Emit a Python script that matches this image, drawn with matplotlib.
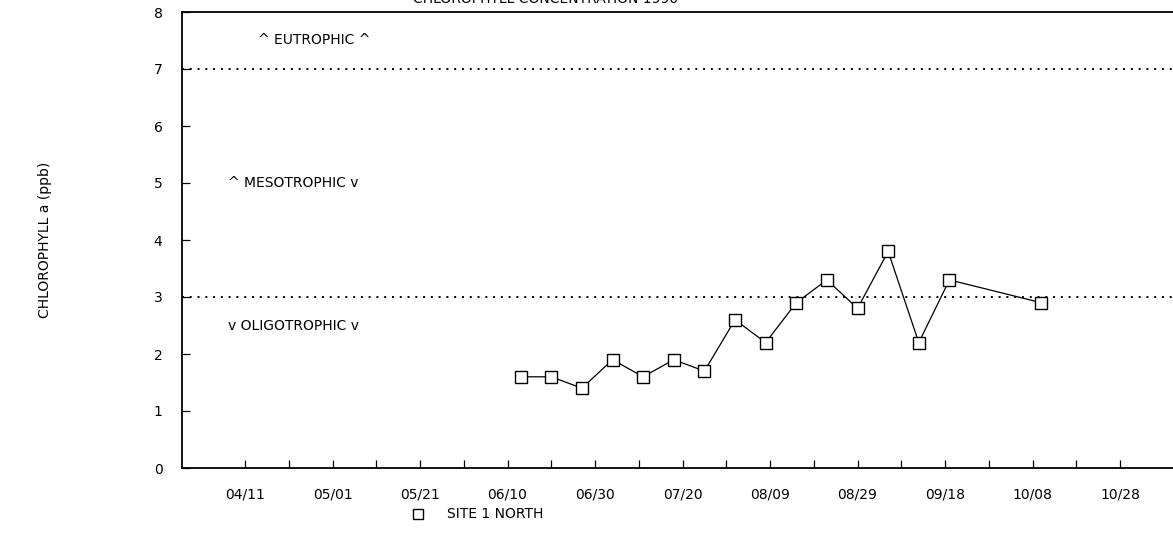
import matplotlib
matplotlib.use("Agg")
import matplotlib.pyplot as plt
import matplotlib.dates as mdates
import numpy as np
import datetime as dt

# ---- data ----
sample_dates = ["1990-06-13", "1990-06-20", "1990-06-27", "1990-07-04", "1990-07-11",
                "1990-07-18", "1990-07-25", "1990-08-01", "1990-08-08", "1990-08-15",
                "1990-08-22", "1990-08-29", "1990-09-05", "1990-09-12", "1990-09-19",
                "1990-10-10"]
chlorophyll = [1.6, 1.6, 1.4, 1.9, 1.6, 1.9, 1.7, 2.6, 2.2, 2.9, 3.3, 2.8, 3.8, 2.2, 3.3, 2.9]
thresholds = [7, 3]
zone_labels = ["^ EUTROPHIC ^", "^ MESOTROPHIC v", "v OLIGOTROPHIC v"]
zone_label_y = [7.5, 5.0, 2.5]
zone_label_x = ["1990-04-14", "1990-04-07", "1990-04-07"]
series_name = "SITE 1 NORTH"
title = "CHLOROPHYLL CONCENTRATION 1990"
ylabel = "CHLOROPHYLL a (ppb)"

plt.rcParams['font.family'] = ['DejaVu Sans']

W, H = 1173, 550
fig = plt.figure(figsize=(W / 100, H / 100), dpi=100)
ax = fig.add_axes([182 / W, 1 - 468 / H, 1 - 182 / W, (468 - 12) / H])

x = [dt.datetime.strptime(d, "%Y-%m-%d") for d in sample_dates]
ax.plot(x, chlorophyll, color="black", lw=0.9, marker="s", ms=8,
        mfc="white", mec="black", mew=1.0, zorder=3)

for t in thresholds:
    ax.axhline(t, color="black", lw=1.4, ls=(0, (1, 3)), zorder=2)

for lab, yy, xx in zip(zone_labels, zone_label_y, zone_label_x):
    ax.text(dt.datetime.strptime(xx, "%Y-%m-%d"), yy, lab, fontsize=10,
            ha="left", va="center", color="black")

ax.set_ylim(0, 8)
ax.set_yticks(range(0, 9))
x0 = dt.datetime(1990, 4, 11) - dt.timedelta(days=14.4)
x1 = dt.datetime(1990, 4, 11) + dt.timedelta(days=212.1)
ax.set_xlim(x0, x1)

major = [dt.datetime(1990, 4, 11) + dt.timedelta(days=20 * i) for i in range(11)]
minor = [dt.datetime(1990, 4, 11) + dt.timedelta(days=10 * i) for i in range(21)]
ax.set_xticks(major)
ax.set_xticks(minor, minor=True)
ax.xaxis.set_major_formatter(mdates.DateFormatter("%m/%d"))

ax.tick_params(axis="both", which="both", direction="in", length=6, width=0.9,
               labelsize=10, colors="black")
ax.tick_params(axis="x", pad=14)
ax.tick_params(axis="y", pad=14)

for s in ["left", "bottom", "top"]:
    ax.spines[s].set_linewidth(1.3)
ax.spines["right"].set_visible(False)

fig.text(45 / W, 1 - 240 / H, ylabel, rotation=90, fontsize=10,
         ha="center", va="center")
fig.text(546 / W, 1.002, title, fontsize=10, ha="center", va="center")

# legend
fig.lines.append(plt.Line2D([418 / W], [1 - 514 / H], transform=fig.transFigure,
                            marker="s", ms=7, mfc="white", mec="black", mew=1.0,
                            ls="none"))
fig.text(447 / W, 1 - 514 / H, series_name, fontsize=10, ha="left", va="center")

fig.savefig("out.png", dpi=100)
